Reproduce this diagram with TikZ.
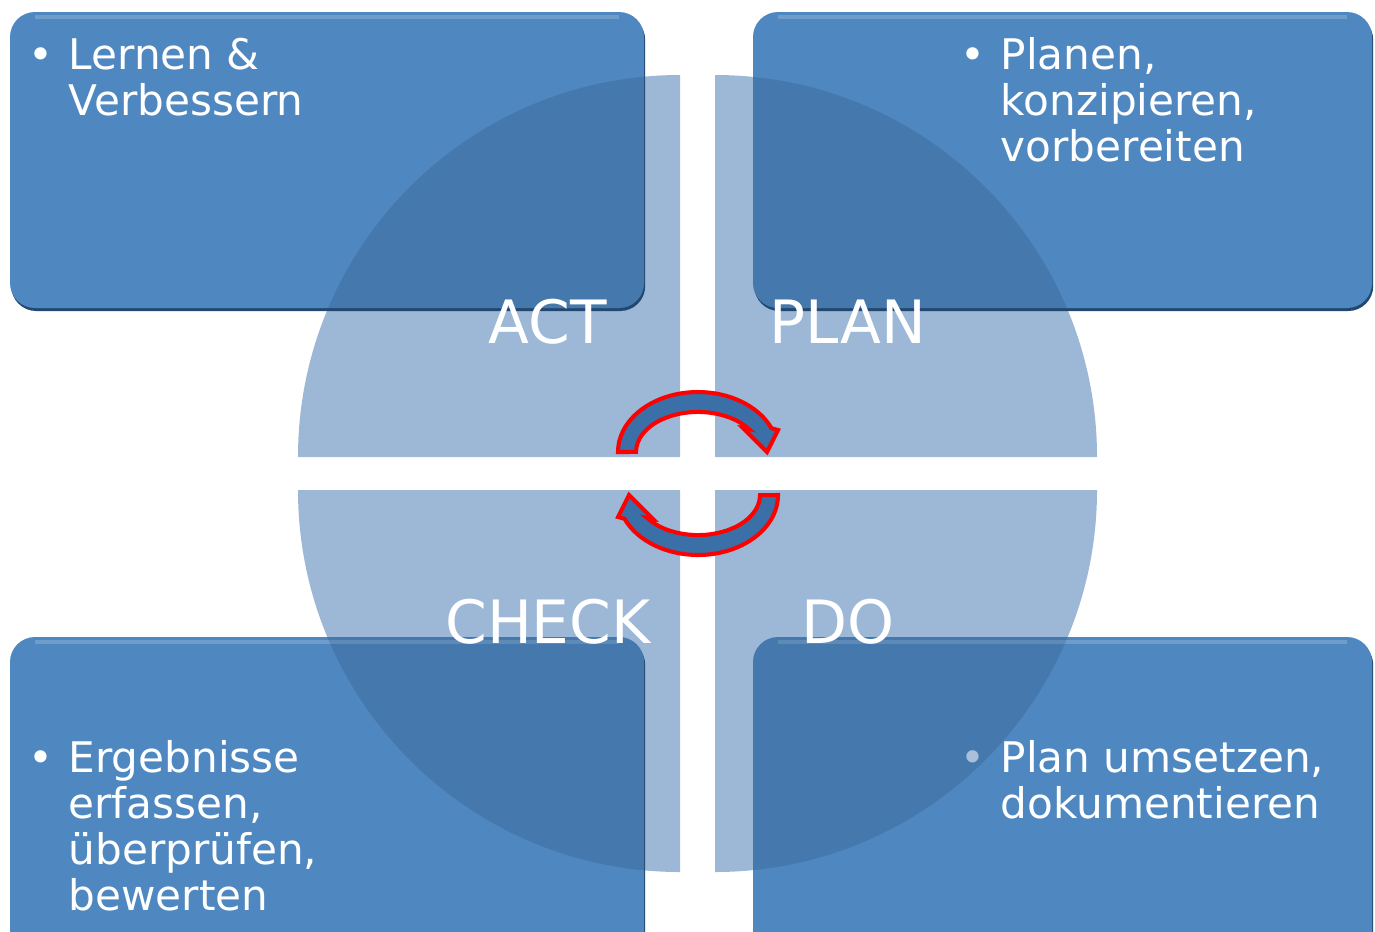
\documentclass[tikz,border=0pt]{standalone}
\usepackage{fontspec}
\setmainfont{DejaVu Sans}
\usetikzlibrary{positioning}

\definecolor{feldblau}{HTML}{4F88C1}
\definecolor{kreisblau}{HTML}{9CB8D6}
\definecolor{schatten}{HTML}{23486F}
\definecolor{pfeilblau}{HTML}{3A6FA8}
\definecolor{punktgrau}{HTML}{A9C0DA}

\begin{document}
\begin{tikzpicture}[
  feld/.style = {fill = feldblau, rounded corners = 0.25cm},
  feldschatten/.style = {fill = schatten, rounded corners = 0.25cm},
  viertel/.style = {fill = kreisblau},
  pfeil/.style = {fill = pfeilblau, draw = red, line width = 1.15pt},
  punkte/.style = {anchor = north west, inner sep = 0pt, align = left, text = white,
                   font = \fontsize{12}{13.1}\selectfont},
  phase/.style = {anchor = base, inner sep = 0pt, text = white,
                  font = \fontsize{17}{20}\selectfont}]

  \useasboundingbox (0, 0) rectangle (13.75, 9.31);
  \clip (0, 0) rectangle (13.75, 9.31);

  % Kreis aus vier Vierteln
  \foreach \sx/\sy/\a in {-1/1/90, 1/1/0, -1/-1/180, 1/-1/270}
    \fill[viertel] (6.975 + \sx*0.175, 4.575 + \sy*0.165) -- ++(\a:3.82)
      arc[start angle = \a, delta angle = 90, radius = 3.82] -- cycle;

  % Felder
  \foreach \xa/\ya/\xb/\yb in {0.10/6.23/6.44/9.19, 7.53/6.23/13.72/9.19,
                                0.10/-0.30/6.44/2.94, 7.53/-0.30/13.72/2.94}
  {
    \fill[feldschatten, shift = {(0.012, -0.03)}] (\xa, \ya) rectangle (\xb, \yb);
    \fill[feld] (\xa, \ya) rectangle (\xb, \yb);
    \draw[white, opacity = 0.18, line width = 1.2pt] (\xa + 0.25, \yb - 0.05) -- (\xb - 0.25, \yb - 0.05);
  }

  % Kreis hinter den Feldern (dunkler)
  \begin{scope}
    \clip[rounded corners = 0.25cm] (0.10, 6.23) rectangle (6.44, 9.19)
      (7.53, 6.23) rectangle (13.72, 9.19) (0.10, -0.30) rectangle (6.44, 2.94)
      (7.53, -0.30) rectangle (13.72, 2.94);
    \foreach \sx/\sy/\a in {-1/1/90, 1/1/0, -1/-1/180, 1/-1/270}
      \fill[schatten, opacity = 0.22] (6.975 + \sx*0.175, 4.575 + \sy*0.165) -- ++(\a:3.82)
        arc[start angle = \a, delta angle = 90, radius = 3.82] -- cycle;
  \end{scope}

  % Texte in den Feldern
  \node[punkte] (act text) at (0.68, 8.94)
    {\llap{\textbullet\kern4.4pt}Lernen \&\\Verbessern};
  \node[punkte] (plan text) at (10.00, 8.94)
    {\llap{\textbullet\kern4.4pt}Planen,\\konzipieren,\\vorbereiten};
  \node[punkte] (check text) at (0.68, 1.91)
    {\llap{\textbullet\kern4.4pt}Ergebnisse\\erfassen,\\überprüfen,\\bewerten};
  \node[punkte] (do text) at (10.00, 1.91)
    {\llap{\textcolor{punktgrau}{\textbullet}\kern4.4pt}Plan umsetzen,\\dokumentieren};

  % Phasen
  \node[phase] (act) at (5.48, 5.88) {ACT};
  \node[phase] (plan) at (8.48, 5.88) {PLAN};
  \node[phase] (check) at (5.48, 2.88) {CHECK};
  \node[phase] (do) at (8.48, 2.88) {DO};

  % Pfeile in der Mitte
  \foreach \dy/\rot in {4.79/0, 4.36/180}
    \draw[pfeil, shift = {(6.98, \dy)}, rotate = \rot]
      (-0.80, 0) arc[start angle = 180, end angle = 23.4, x radius = 0.80, y radius = 0.60]
      -- (0.80, 0.22) -- (0.69, 0) -- (0.45, 0.24) -- (0.508, 0.23)
      arc[start angle = 35, end angle = 180, x radius = 0.62, y radius = 0.40] -- cycle;

\end{tikzpicture}
\end{document}
